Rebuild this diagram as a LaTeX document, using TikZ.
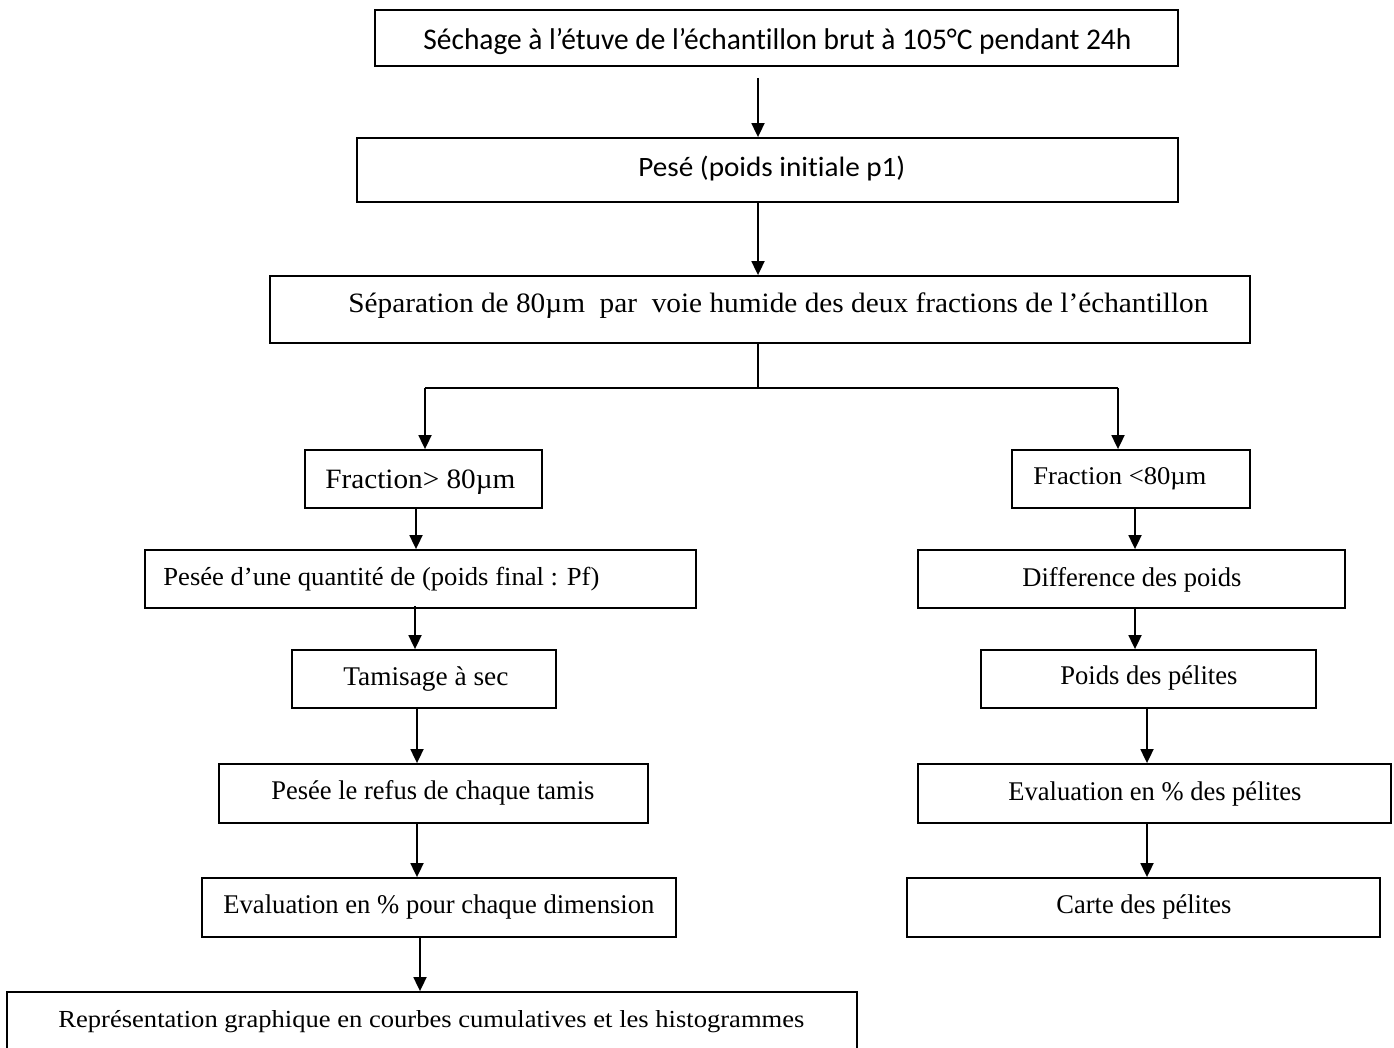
\documentclass[tikz,border=0pt]{standalone}
\usepackage{fontspec}
\usepackage{graphicx}
\setmainfont[Ligatures=NoCommon]{Liberation Serif}
\newfontfamily\calfont[Ligatures=NoCommon]{Carlito}
\usetikzlibrary{arrows.meta,calc}
\newcommand\tx[3]{{\fontsize{\fpeval{#1/2}pt}{\fpeval{#1*0.6}pt}\selectfont\resizebox{\fpeval{#2/2}pt}{\height}{#3}}}
\newcommand\bx[5]{\node[box,minimum width=\fpeval{(#4-#2)/2}pt,minimum height=\fpeval{(#5-#3)/2}pt] (#1) at (\fpeval{(#2+#4)/2},\fpeval{(#3+#5)/2}) {};}
\tikzset{
  box/.style={draw,line width=0.9pt,inner sep=0pt,rectangle},
  txt/.style={anchor=base west,inner sep=0pt},
  arr/.style={line width=0.9pt,-{Triangle[length=7pt,width=6.5pt]}},
  ln/.style={line width=0.6pt}
}
\begin{document}
\begin{tikzpicture}[x=0.5pt,y=-0.5pt]
\useasboundingbox (0,0) rectangle (1394,1048);
% boxes
\bx{b1}{375}{10}{1178}{66}
\bx{b2}{357}{138}{1178}{202}
\bx{b3}{270}{276}{1250}{343}
\bx{fg}{305}{450}{542}{508}
\bx{fl}{1012}{450}{1250}{508}
\bx{l1}{145}{550}{696}{608}
\bx{l2}{292}{650}{556}{708}
\bx{l3}{219}{764}{648}{823}
\bx{l4}{202}{878}{676}{937}
\bx{l5}{7}{992}{857}{1056}
\bx{r1}{918}{550}{1345}{608}
\bx{r2}{981}{650}{1316}{708}
\bx{r3}{918}{764}{1391}{823}
\bx{r4}{907}{878}{1380}{937}
% texts
\node[txt] (t1) at (423,50) {\tx{30}{708}{\calfont Séchage à l’étuve de l’échant\kern0pt illon brut à 105°C pendant 24h}};
\node[txt] (t2) at (638,177) {\tx{28}{267}{\calfont Pesé (poids init\kern0pt iale p1)}};
\node[txt] (t3) at (348,313) {\tx{28}{860}{Séparation de 80µm\ \ par\ \ voie humide des deux fractions de l’échantillon}};
\node[txt] (tfg) at (325,488) {\tx{28}{190}{Fraction> 80µm}};
\node[txt] (tfl) at (1033,485) {\tx{25.5}{173}{Fraction <80µm}};
\node[txt] (tl1) at (163,585) {\tx{26}{436}{Pesée d’une quantité de (poids final : Pf)}};
\node[txt] (tl2) at (343,685) {\tx{27}{165}{Tamisage à sec}};
\node[txt] (tl3) at (271,799) {\tx{27}{323}{Pesée le refus de chaque tamis}};
\node[txt] (tl4) at (223,913) {\tx{27}{431}{Evaluation en \% pour chaque dimension}};
\node[txt] (tl5) at (58,1027) {\tx{24.5}{746}{Représentation graphique en courbes cumulatives et les histogrammes}};
\node[txt] (tr1) at (1022,586) {\tx{27}{219}{Difference des poids}};
\node[txt] (tr2) at (1060,684) {\tx{27}{177}{Poids des pélites}};
\node[txt] (tr3) at (1008,800) {\tx{27}{293}{Evaluation en \% des pélites}};
\node[txt] (tr4) at (1056,913) {\tx{27}{175}{Carte des pélites}};
% connector coordinates
\coordinate (xa) at (758,0);
\coordinate (xl) at (416,0);
\coordinate (xr) at (1135,0);
\coordinate (xr2) at (1147,0);
\coordinate (sp) at (758,388);
\coordinate (spl) at (425,388);
\coordinate (spr) at (1118,388);
% connectors
\draw[arr,shorten <=5.5pt] (b1.south -| xa) -- (b2.north -| xa);
\draw[arr] (b2.south -| xa) -- (b3.north -| xa);
\draw[ln] (b3.south -| xa) -- (sp);
\draw[ln] (spl) -- (spr);
\draw[arr] (spl) -- (fg.north -| spl);
\draw[arr] (spr) -- (fl.north -| spr);
\draw[arr] (fg.south -| xl) -- (l1.north -| xl);
\draw[arr] ($(l1.south -| xl)+(-1,-3)$) -- (l2.north -| {(415,0)});
\draw[arr] (l2.south -| {(417,0)}) -- (l3.north -| {(417,0)});
\draw[arr] (l3.south -| {(417,0)}) -- (l4.north -| {(417,0)});
\draw[arr] (l4.south -| {(420,0)}) -- (l5.north -| {(420,0)});
\draw[arr] (fl.south -| xr) -- (r1.north -| xr);
\draw[arr] (r1.south -| xr) -- (r2.north -| xr);
\draw[arr] (r2.south -| xr2) -- (r3.north -| xr2);
\draw[arr] (r3.south -| xr2) -- (r4.north -| xr2);
\end{tikzpicture}
\end{document}
